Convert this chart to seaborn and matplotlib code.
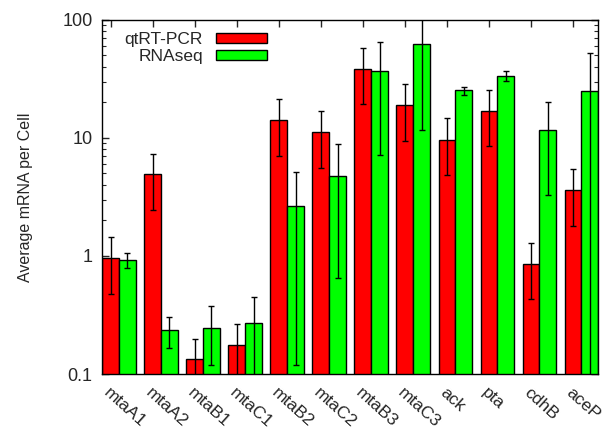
import matplotlib
matplotlib.use("Agg")
import matplotlib.pyplot as plt
import matplotlib.transforms as mtransforms
import numpy as np
import pandas as pd
import seaborn as sns

genes = ["mtaA1", "mtaA2", "mtaB1", "mtaC1", "mtaB2", "mtaC2",
         "mtaB3", "mtaC3", "ack", "pta", "cdhB", "aceP"]

# qtRT-PCR means and error bar ends
qpcr = [0.97, 4.97, 0.134, 0.178, 14.1, 11.2, 38.5, 18.9, 9.6, 17.0, 0.86, 3.59]
qpcr_lo = [0.48, 2.45, 0.07, 0.08, 7.08, 5.58, 19.4, 9.44, 4.83, 8.49, 0.43, 1.81]
qpcr_hi = [1.45, 7.37, 0.20, 0.267, 21.3, 16.8, 57.5, 28.4, 14.6, 25.6, 1.29, 5.4]

# RNAseq means and error bar ends
rnaseq = [0.92, 0.236, 0.248, 0.27, 2.64, 4.78, 36.5, 62.6, 25.2, 33.6, 11.75, 24.9]
rnaseq_lo = [0.79, 0.166, 0.119, 0.06, 0.12, 0.65, 7.13, 11.7, 23.2, 30.5, 3.26, 0.05]
rnaseq_hi = [1.05, 0.305, 0.376, 0.45, 5.12, 8.9, 65.4, 160.0, 26.9, 36.8, 20.3, 52.2]

methods = ["qtRT-PCR", "RNAseq"]
colors = {"qtRT-PCR": "#ff0000", "RNAseq": "#00ff00"}

df = pd.DataFrame({
    "gene": genes * 2,
    "method": [methods[0]] * len(genes) + [methods[1]] * len(genes),
    "value": qpcr + rnaseq,
    "lo": qpcr_lo + rnaseq_lo,
    "hi": qpcr_hi + rnaseq_hi,
})

sns.set_style("ticks")
plt.rcParams["font.family"] = ["Liberation Sans", "DejaVu Sans"]

fig = plt.figure(figsize=(6.08, 4.30), dpi=100)
ax = fig.add_axes([0.168, 0.130, 0.816, 0.824])

sns.barplot(data=df, x="gene", y="value", hue="method", order=genes,
            hue_order=methods, palette=colors, width=0.8,
            edgecolor="black", linewidth=1.0, saturation=1, ax=ax,
            errorbar=None)
ax.set_yscale("log")

# error bars at the centre of each bar
for i, m in enumerate(methods):
    bars = ax.containers[i]
    sub = df[df.method == m].set_index("gene").loc[genes]
    xs = [p.get_x() + p.get_width() / 2 for p in bars]
    yerr = [sub["value"] - sub["lo"], sub["hi"] - sub["value"]]
    ax.errorbar(xs, sub["value"], yerr=yerr, fmt="none", ecolor="black",
                elinewidth=1.0, capsize=2.5, capthick=1.0, zorder=5)

ax.set_ylim(0.1, 100)
ax.set_xlim(-0.4, len(genes) - 0.6)
ax.set_yticks([0.1, 1, 10, 100])
ax.set_yticklabels(["0.1", "1", "10", "100"], fontsize=13)
ax.set_xticks(np.arange(len(genes)) - 0.2)
ax.set_xticklabels(genes, rotation=-42, ha="left", va="top",
                   rotation_mode="anchor", fontsize=12.5)
shift = mtransforms.ScaledTranslation(4 / 100, 0, fig.dpi_scale_trans)
for lab in ax.get_xticklabels():
    lab.set_transform(lab.get_transform() + shift)
ax.tick_params(which="both", direction="in", top=True, right=True)
ax.tick_params(which="major", length=5, width=1)
ax.tick_params(which="minor", length=3, width=0.8)
ax.tick_params(axis="x", pad=8)
ax.tick_params(axis="y", pad=7)
ax.set_xlabel("")
ax.set_ylabel("Average mRNA per Cell", fontsize=11.5)
ax.yaxis.set_label_coords(-0.139, 0.5)
for s in ax.spines.values():
    s.set_linewidth(1.0)
    s.set_color("black")

ax.legend(loc="upper right", bbox_to_anchor=(267 / 608, 1 - 32 / 430),
          bbox_transform=fig.transFigure, frameon=False, borderpad=0,
          borderaxespad=0, markerfirst=False, fontsize=12.5,
          handlelength=2.93, handleheight=0.57, handletextpad=0.75,
          labelspacing=0.12)

fig.savefig("out.png", dpi=100)
